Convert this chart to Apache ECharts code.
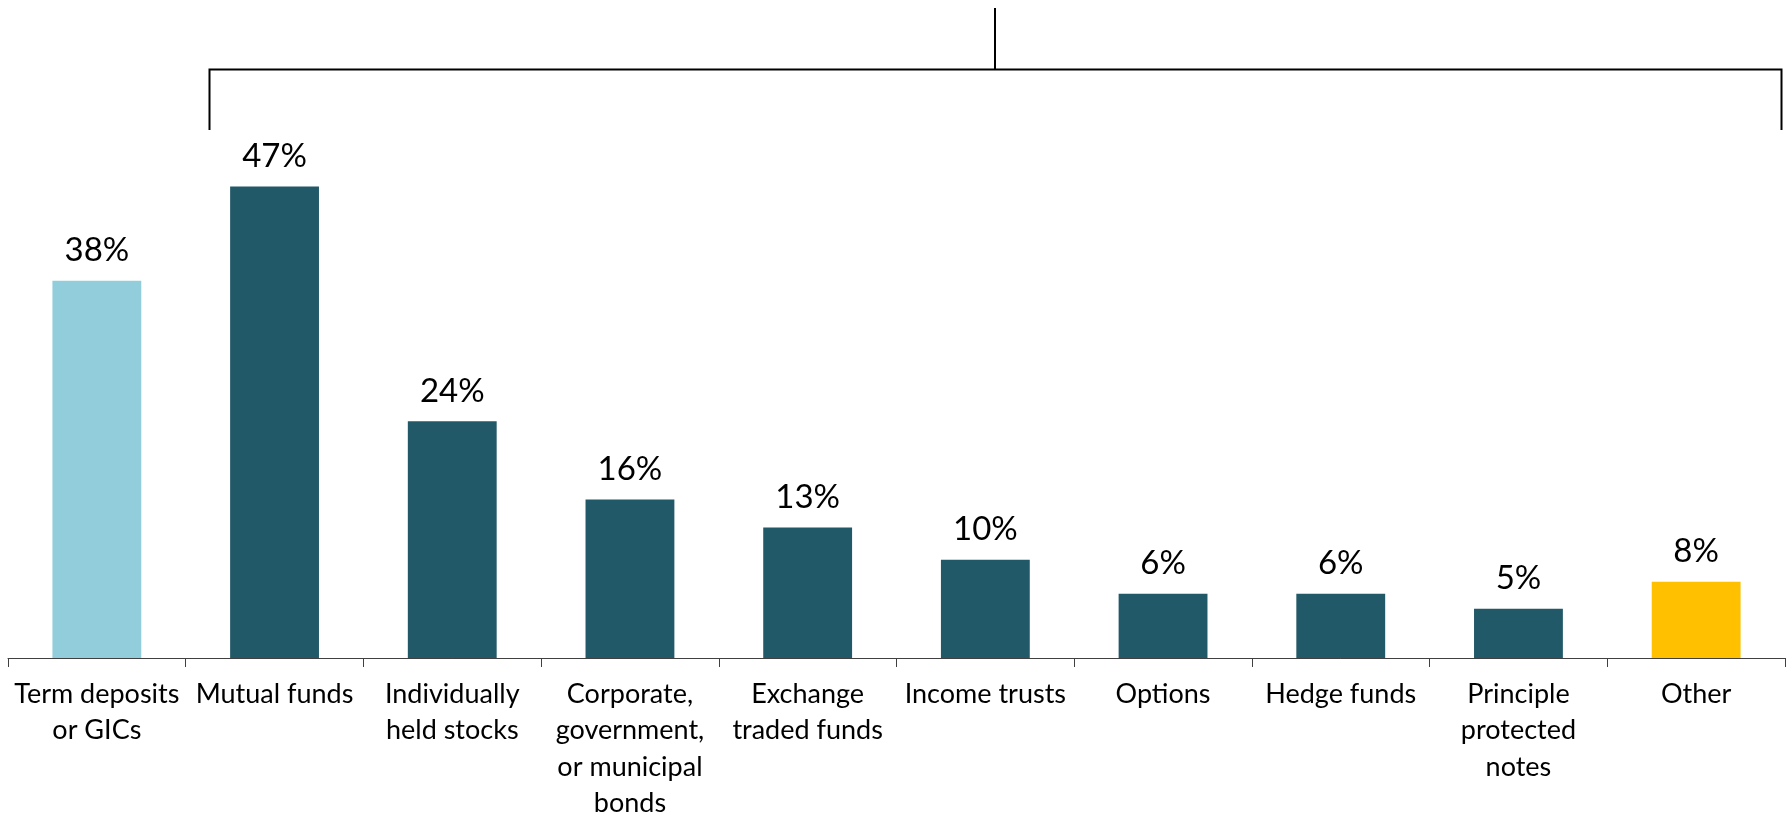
<!DOCTYPE html>
<html>
<head>
<meta charset="utf-8">
<script src="https://cdn.jsdelivr.net/npm/echarts@6/dist/echarts.min.js"></script>
<style>
html,body{margin:0;padding:0;background:#fff;}
#chart{width:1788px;height:817px;}
</style>
</head>
<body>
<div id="chart"></div>
<script>
const categories = [
  "Term deposits\nor GICs",
  "Mutual funds",
  "Individually\nheld stocks",
  "Corporate,\ngovernment,\nor municipal\nbonds",
  "Exchange\ntraded funds",
  "Income trusts",
  "Options",
  "Hedge funds",
  "Principle\nprotected\nnotes",
  "Other"
];
const values = [37.6, 47.0, 23.6, 15.8, 13.0, 9.8, 6.4, 6.4, 4.9, 7.6];
const barColors = ["#92CDDC", "#215968", "#215968", "#215968", "#215968", "#215968", "#215968", "#215968", "#215968", "#FFC000"];
const yMin = 0;
const yMax = 60;

const chart = echarts.init(document.getElementById('chart'), null, {renderer: 'canvas'});
const font = 'Lato, "Noto Sans", sans-serif';

const option = {
  animation: false,
  backgroundColor: '#ffffff',
  grid: {left: 8, right: 3, top: 56, bottom: 159, containLabel: false, outerBoundsMode: 'none'},
  xAxis: {
    type: 'category',
    data: categories,
    boundaryGap: true,
    axisLine: {show: true, lineStyle: {color: '#404040', width: 1}},
    axisTick: {show: true, interval: 0, length: 9, lineStyle: {color: '#404040', width: 1}},
    axisLabel: {
      interval: 0, margin: 18, color: '#000000',
      fontFamily: font, fontSize: 27, lineHeight: 36.5
    }
  },
  yAxis: {
    type: 'value', min: yMin, max: yMax,
    show: false,
    splitLine: {show: false}
  },
  series: [{
    type: 'bar',
    data: values.map((v, i) => ({value: v, itemStyle: {color: barColors[i]}})),
    barCategoryGap: '50%',
    label: {
      show: true, position: 'top', distance: 10,
      color: '#000000', fontFamily: font, fontSize: 33, lineHeight: 40,
      formatter: p => Math.round(p.value) + '%'
    }
  }],
  graphic: [
    {type: 'polyline', shape: {points: [[209.5, 130], [209.5, 69.5], [1781.5, 69.5], [1781.5, 130]]},
     style: {stroke: '#000000', lineWidth: 2, fill: null}},
    {type: 'line', shape: {x1: 995, y1: 8, x2: 995, y2: 69.5},
     style: {stroke: '#000000', lineWidth: 2}}
  ]
};
chart.setOption(option);
</script>
</body>
</html>
